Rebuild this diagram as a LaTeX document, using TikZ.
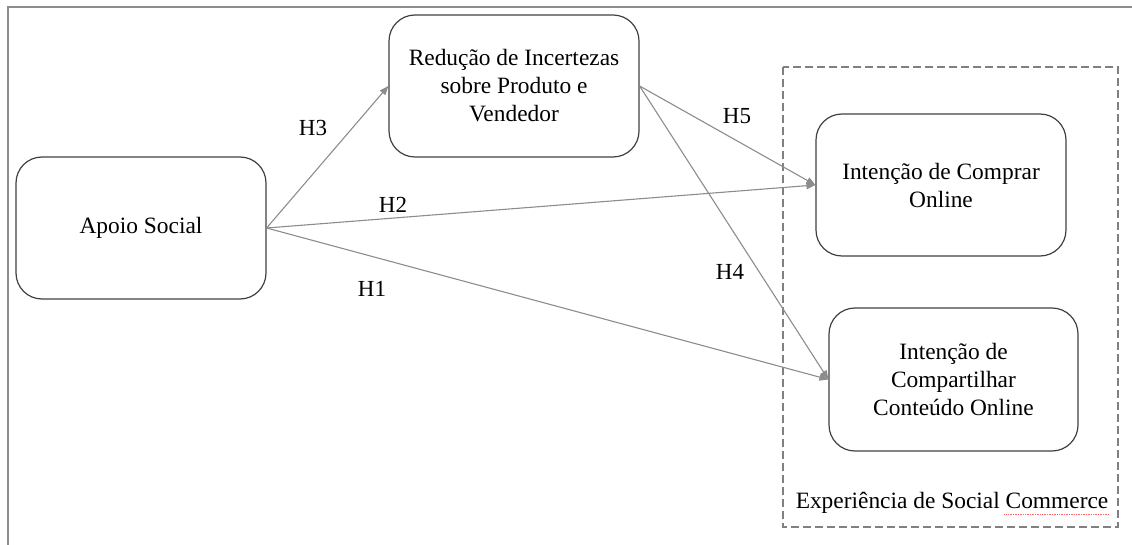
\documentclass[tikz,border=0pt]{standalone}
\usepackage{fontspec}
\setmainfont{Liberation Serif}
\usetikzlibrary{arrows.meta,calc}
\begin{document}
\begin{tikzpicture}[x=1pt,y=-1pt,
  construct/.style={draw=black!75, line width=1.2pt, rounded corners=26pt,
    minimum width=250pt, minimum height=142pt, inner sep=0pt, align=center,
    font=\fontsize{23.4}{28}\selectfont},
  link/.style={draw=black!45, line width=1.1pt, -{Triangle[length=9pt,width=7pt]}},
  hlabel/.style={font=\fontsize{23}{28}\selectfont, inner sep=0pt},
  frameline/.style={draw=black!45, line width=1.6pt},
  groupbox/.style={draw=black!50, line width=2pt, dash pattern=on 8pt off 4pt},
]
\useasboundingbox (0,0) rectangle (1132,545);

% page frame (top and left edges only)
\draw[frameline] (8,545) -- (8,7) -- (1132,7);

% group of outcome constructs
\draw[groupbox] (783,67) rectangle (1118,527);
\node[font=\fontsize{23.4}{28}\selectfont, inner sep=0pt] (grp) at (952,503)
  {Experiência de Social Commerce};
\draw[red!60, densely dotted, line width=0.7pt]
  ([xshift=-104pt,yshift=-6pt]grp.base east) -- ([yshift=-6pt]grp.base east);

% constructs
\node[construct] (apoio) at (141,228) {Apoio Social};
\node[construct] (reduc) at (514,86) {Redução de Incertezas\\sobre Produto e\\Vendedor};
\node[construct] (compra) at (941,185) {Intenção de Comprar\\Online};
\node[construct, minimum width=249pt, minimum height=143pt] (compart) at (953.5,379.5)
  {Intenção de\\Compartilhar\\Conteúdo Online};

% hypotheses
\draw[link] (apoio.east) -- (reduc.west);
\draw[link] (apoio.east) -- (compra.west);
\draw[link] (apoio.east) -- (compart.west);
\draw[link] (reduc.east) -- (compra.west);
\draw[link] (reduc.east) -- (compart.west);

\node[hlabel] (h3) at (313,128) {H3};
\node[hlabel] (h2) at (393,205) {H2};
\node[hlabel] (h1) at (372,289) {H1};
\node[hlabel] (h5) at (737,116) {H5};
\node[hlabel] (h4) at (730,272) {H4};
\end{tikzpicture}
\end{document}
